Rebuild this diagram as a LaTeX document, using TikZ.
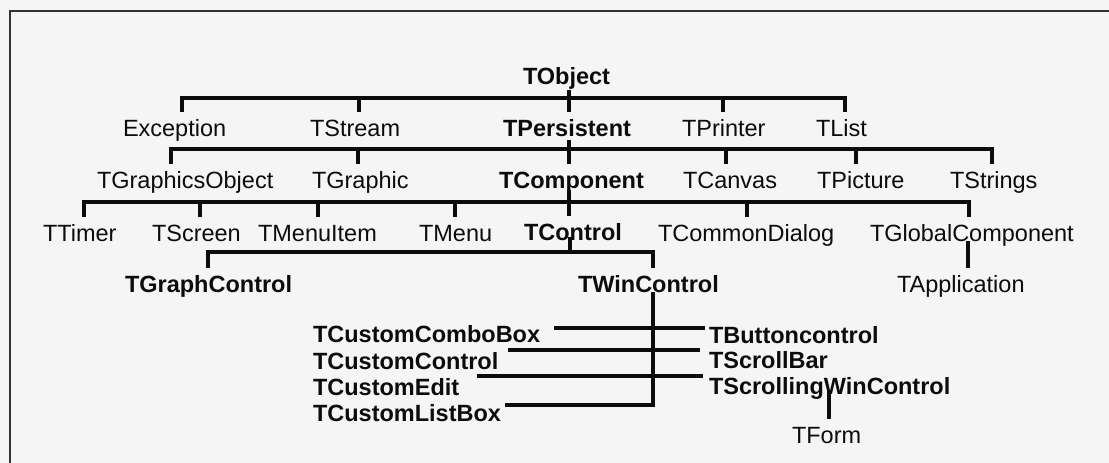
\documentclass[tikz,border=0pt]{standalone}
\usepackage{fontspec}
\setmainfont{Liberation Sans}
\definecolor{bg}{RGB}{245,245,245}
\definecolor{ink}{RGB}{12,12,12}
\newcommand\clsfont{\fontsize{23.5}{28}\selectfont}
\tikzset{
  cls/.style={font=\clsfont, text=ink, inner sep=0pt, outer xsep=0pt, outer ysep=7.5pt,
              text height=17pt, text depth=5pt, anchor=base west},
  bcls/.style={cls, font=\clsfont\bfseries},
  conn/.style={draw=ink, line width=3.2pt, line join=miter},
  frameline/.style={draw=black!80, line width=1.6pt}
}
\begin{document}
\begin{tikzpicture}[x=1pt,y=-1pt]
\useasboundingbox (0,0) rectangle (1109,463);
\fill[bg] (0,0) rectangle (1109,463);
\draw[frameline] (10,463) -- (10,11) -- (1109,11);

% level 0
\node[bcls] (tobj) at (523,84) {TObject};
% level 1
\node[cls]  (exc)  at (123,136) {Exception};
\node[cls]  (str)  at (310,136) {TStream};
\node[bcls] (pers) at (503,136) {TPersistent};
\node[cls]  (prn)  at (682,136) {TPrinter};
\node[cls]  (lst)  at (816,136) {TList};
% level 2
\node[cls]  (gro)  at (97,188)  {TGraphicsObject};
\node[cls]  (gra)  at (312,188) {TGraphic};
\node[bcls] (comp) at (499,188) {TComponent};
\node[cls]  (canv) at (683,188) {TCanvas};
\node[cls]  (pict) at (817,188) {TPicture};
\node[cls]  (strs) at (950,188) {TStrings};
% level 3
\node[cls]  (tim)  at (43,241)  {TTimer};
\node[cls]  (scr)  at (152,241) {TScreen};
\node[cls]  (mi)   at (258,241) {TMenuItem};
\node[cls]  (menu) at (419,241) {TMenu};
\node[bcls] (ctl)  at (524,240) {TControl};
\node[cls]  (cd)   at (658,241) {TCommonDialog};
\node[cls]  (gc)   at (870,241) {TGlobalComponent};
% level 4
\node[bcls] (gctl) at (125,292) {TGraphControl};
\node[bcls] (wc)   at (578,292) {TWinControl};
\node[cls]  (app)  at (897,292) {TApplication};
% level 5
\node[bcls] (ccb)  at (313,342) {TCustomComboBox};
\node[bcls] (cc)   at (313,369) {TCustomControl};
\node[bcls] (ce)   at (313,395) {TCustomEdit};
\node[bcls] (clb)  at (313,421) {TCustomListBox};
\node[bcls] (bc)   at (709,343) {TButtoncontrol};
\node[bcls] (sb)   at (709,368) {TScrollBar};
\node[bcls] (swc)  at (709,394) {TScrollingWinControl};
\node[cls]  (frm)  at (792,443) {TForm};

% bar levels
\coordinate (bar1) at (0,98);
\coordinate (bar2) at (0,149);
\coordinate (bar3) at (0,202);
\coordinate (bar4) at (0,252);

% TObject
\draw[conn] (exc.north -| 182,0) |- (bar1 -| 845,0) -- (lst.north -| 845,0);
\draw[conn] (bar1 -| 359,0) -- (str.north -| 359,0);
\draw[conn] (bar1 -| 723,0) -- (prn.north -| 723,0);
\draw[conn] (tobj.base -| 569,0) ++(0,6) -- (pers.north -| 569,0);

% TPersistent
\draw[conn] (gro.north -| 171,0) |- (bar2 -| 992,0) -- (strs.north -| 992,0);
\draw[conn] (bar2 -| 358,0) -- (gra.north -| 358,0);
\draw[conn] (bar2 -| 726,0) -- (canv.north -| 726,0);
\draw[conn] (bar2 -| 856,0) -- (pict.north -| 856,0);
\draw[conn] (pers.base -| 569,0) ++(0,4) -- (comp.north -| 569,0);

% TComponent
\draw[conn] (tim.north -| 84,0) |- (bar3 -| 969,0) -- (gc.north -| 969,0);
\draw[conn] (bar3 -| 200,0) -- (scr.north -| 200,0);
\draw[conn] (bar3 -| 318,0) -- (mi.north -| 318,0);
\draw[conn] (bar3 -| 455,0) -- (menu.north -| 455,0);
\draw[conn] (bar3 -| 747,0) -- (cd.north -| 747,0);
\draw[conn] (comp.base -| 569,0) ++(0,2) -- (ctl.north -| 569,0);

% TControl
\draw[conn] (gctl.north -| 208,0) |- (bar4 -| 653,0) -- (wc.north -| 653,0);
\draw[conn] (ctl.base -| 570,0) ++(0,-3) -- (bar4 -| 570,0);

% TGlobalComponent
\draw[conn] (gc.base -| 968,0) -- (app.north -| 968,0);

% TWinControl
\coordinate (wcend) at (505,405);
\draw[conn] (wc.base -| 653,0) |- (wcend);
\coordinate (l1a) at (554,328); \coordinate (l1b) at (705,328);
\coordinate (l2a) at (508,350); \coordinate (l2b) at (700,350);
\coordinate (l3a) at (477,376); \coordinate (l3b) at (703,376);
\draw[conn] (l1a) -- (l1b);
\draw[conn] (l2a) -- (l2b);
\draw[conn] (l3a) -- (l3b);

% TScrollingWinControl
\draw[conn] (swc.base -| 829,0) ++(0,-4) -- (frm.north -| 829,0);
\end{tikzpicture}
\end{document}
